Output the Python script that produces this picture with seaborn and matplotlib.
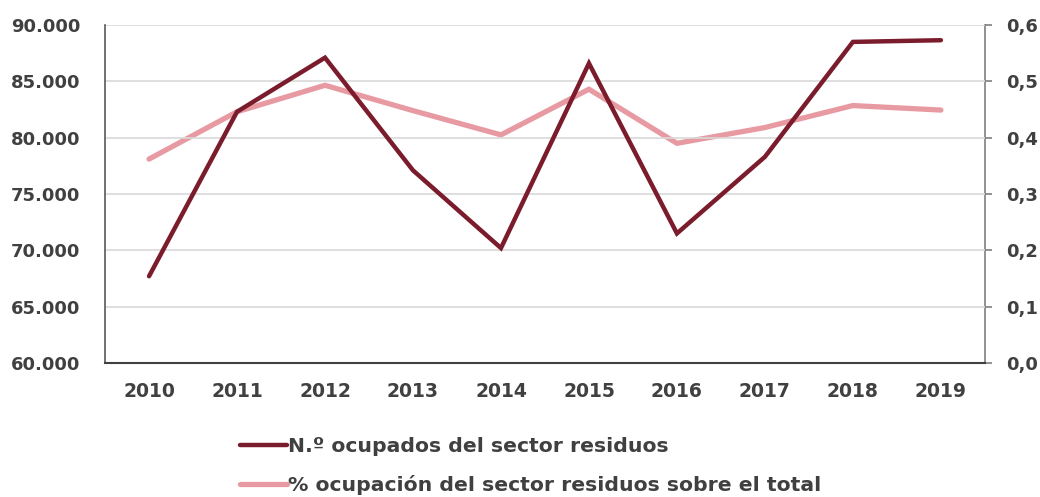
import matplotlib
matplotlib.use("Agg")
import matplotlib.pyplot as plt
import seaborn as sns
import pandas as pd
from matplotlib.ticker import FuncFormatter, MultipleLocator

years = ["2010", "2011", "2012", "2013", "2014", "2015", "2016", "2017", "2018", "2019"]
ocupados = [67700, 82300, 87100, 77100, 70200, 86600, 71500, 78300, 88500, 88650]
porcentaje = [0.362, 0.446, 0.493, 0.448, 0.405, 0.486, 0.390, 0.418, 0.457, 0.449]

label_ocup = "N.º ocupados del sector residuos"
label_pct = "% ocupación del sector residuos sobre el total"

dark = "#7b1c2c"
pink = "#e89aa3"
text_col = "#404040"

sns.set_theme(style="white")
plt.rcParams["font.family"] = ["DejaVu Sans"]

df = pd.DataFrame({"year": years, "ocupados": ocupados, "pct": porcentaje})

fig = plt.figure(figsize=(10.4, 4.97), dpi=100)
ax = fig.add_axes([0.101, 0.2696, 0.846, 0.6801])
ax2 = ax.twinx()

sns.lineplot(data=df, x="year", y="ocupados", ax=ax, color=dark, linewidth=3.2,
             sort=False, label=label_ocup, legend=False, zorder=3,
             solid_joinstyle="miter", solid_capstyle="round")
sns.lineplot(data=df, x="year", y="pct", ax=ax2, color=pink, linewidth=3.8,
             sort=False, label=label_pct, legend=False, zorder=2,
             solid_joinstyle="miter", solid_capstyle="round")

ax.set_zorder(ax2.get_zorder() + 1)
ax.patch.set_visible(False)

ax.set_xlim(-0.5, len(years) - 0.5)
ax.set_ylim(60000, 90000)
ax.yaxis.set_major_locator(MultipleLocator(5000))
ax.yaxis.set_major_formatter(FuncFormatter(lambda v, p: f"{int(v):,}".replace(",", ".")))
ax2.set_ylim(0, 0.6)
ax2.yaxis.set_major_locator(MultipleLocator(0.1))
ax2.yaxis.set_major_formatter(FuncFormatter(lambda v, p: f"{v:.1f}".replace(".", ",")))

ax.grid(axis="y", color="#d9d9d9", linewidth=1.2)
ax.grid(axis="x", visible=False)
ax2.grid(False)

for a in (ax, ax2):
    a.set_xlabel("")
    a.set_ylabel("")
    a.spines["top"].set_visible(False)

ax.spines["right"].set_visible(False)
ax.spines["left"].set_color("#595959")
ax.spines["left"].set_linewidth(1.2)
ax.spines["bottom"].set_color("#404040")
ax.spines["bottom"].set_linewidth(1.5)
ax2.spines["left"].set_visible(False)
ax2.spines["bottom"].set_visible(False)
ax2.spines["right"].set_color("#7f7f7f")
ax2.spines["right"].set_linewidth(1.2)

ax.tick_params(axis="y", length=0, pad=18, labelsize=13, labelcolor=text_col)
ax.tick_params(axis="x", length=0, pad=14, labelsize=13.5, labelcolor=text_col)
ax2.tick_params(axis="y", length=5, width=1.2, color="#7f7f7f", pad=10,
                labelsize=13, labelcolor=text_col, direction="out")
for lab in ax.get_xticklabels() + ax.get_yticklabels() + ax2.get_yticklabels():
    lab.set_fontweight("bold")

h1, l1 = ax.get_legend_handles_labels()
h2, l2 = ax2.get_legend_handles_labels()
leg = fig.legend(h1 + h2, l1 + l2, loc="upper left", bbox_to_anchor=(0.231, 0.12),
                 frameon=False, ncol=1, handlelength=2.3, handletextpad=0.05,
                 labelspacing=0.92, borderaxespad=0, borderpad=0,
                 prop={"size": 14.7, "weight": "bold"})
for t in leg.get_texts():
    t.set_color(text_col)

fig.savefig("out.png", dpi=100)
